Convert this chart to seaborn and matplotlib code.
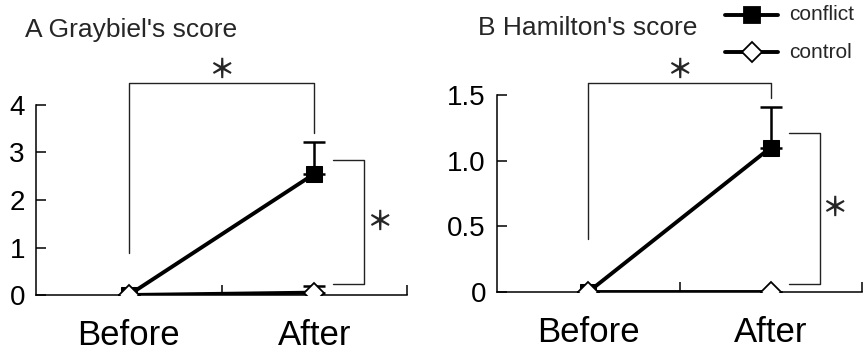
import matplotlib
matplotlib.use("Agg")
import matplotlib.pyplot as plt
import seaborn as sns
import pandas as pd
import numpy as np

sns.set_style("white")
plt.rcParams['font.family'] = ['Liberation Sans', 'Noto Sans CJK JP', 'DejaVu Sans']

# ---- data ----
categories = ["Before", "After"]
groups = ["conflict", "control"]

a_conflict = [0.0, 2.55]
a_conflict_err = [0.0, 0.68]
a_control = [0.0, 0.05]
a_control_err = [0.0, 0.14]

b_conflict = [0.0, 1.10]
b_conflict_err = [0.0, 0.31]
b_control = [0.0, 0.0]
b_control_err = [0.0, 0.0]

a_yticks = [0, 1, 2, 3, 4]
a_yticklabels = ["0", "1", "2", "3", "4"]
b_yticks = [0, 0.5, 1.0, 1.5]
b_yticklabels = ["0", "0.5", "1.0", "1.5"]

W, H = 865, 351
fig = plt.figure(figsize=(W / 100, H / 100), dpi=100)

def px_axes(x0, x1, y0, y1):
    return fig.add_axes([x0 / W, 1 - y0 / H, (x1 - x0) / W, (y0 - y1) / H])

axA = px_axes(36, 407, 295, 105)
axB = px_axes(497, 862, 292, 95)

SQ_MS = 11
DI_MS = 10.5

def draw_panel(ax, conf, conf_err, ctrl, ctrl_err, ymax, yticks, yticklabels, title, title_xy):
    pos = np.arange(len(categories))
    df = pd.DataFrame({
        "x": np.concatenate([pos, pos]),
        "y": conf + ctrl,
        "group": [groups[0]] * len(categories) + [groups[1]] * len(categories),
    })
    ax.errorbar(pos, conf, yerr=[np.zeros(len(conf)), conf_err], fmt="none",
                ecolor="black", elinewidth=1.8, capsize=8, capthick=1.8, zorder=2)
    ax.errorbar(pos, ctrl, yerr=[np.zeros(len(ctrl)), ctrl_err], fmt="none",
                ecolor="black", elinewidth=1.8, capsize=8, capthick=1.8, zorder=2)
    sns.lineplot(data=df[df.group == "conflict"], x="x", y="y", ax=ax, color="black",
                 linewidth=2.8, marker="s", markersize=SQ_MS, markerfacecolor="black",
                 markeredgecolor="black", legend=False, zorder=3)
    sns.lineplot(data=df[df.group == "control"], x="x", y="y", ax=ax, color="black",
                 linewidth=2.8, marker="D", markersize=DI_MS, markerfacecolor="white",
                 markeredgecolor="black", markeredgewidth=1.3, legend=False, zorder=4)
    ax.set_xlim(-0.5, 1.5)
    ax.set_ylim(0, ymax)
    ax.set_xlabel("")
    ax.set_ylabel("")
    for s in ["top", "right"]:
        ax.spines[s].set_visible(False)
    for s in ["left", "bottom"]:
        ax.spines[s].set_color("black")
        ax.spines[s].set_linewidth(1.1)
    ax.set_yticks(yticks)
    ax.set_yticklabels(yticklabels, fontsize=20)
    ax.tick_params(axis="y", left=True, direction="in", length=7, width=1.1, pad=8, colors="black")
    ax.set_xticks(pos)
    ax.set_xticklabels(categories, fontsize=25)
    ax.tick_params(axis="x", which="major", bottom=True, length=0, pad=17, colors="black")
    ax.set_xticks([0.5, 1.5], minor=True)
    ax.tick_params(axis="x", which="minor", bottom=True, direction="in", length=7, width=1.1,
                   colors="black")
    ax.set_facecolor("white")
    fig.text(title_xy[0] / W, 1 - title_xy[1] / H, title, fontsize=19, va="center", ha="left")

draw_panel(axA, a_conflict, a_conflict_err, a_control, a_control_err, 4,
           a_yticks, a_yticklabels, "A Graybiel's score", (25, 30))
draw_panel(axB, b_conflict, b_conflict_err, b_control, b_control_err, 1.5,
           b_yticks, b_yticklabels, "B Hamilton's score", (478, 28))

STAR_FS = 19

def bracket_top(ax, x0, x1, ytop, y0low, y1low, star_y):
    ax.plot([x0, x0, x1, x1], [y0low, ytop, ytop, y1low], color="#222222", lw=1.0,
            clip_on=False, zorder=1)
    ax.text((x0 + x1) / 2, star_y, "＊", ha="center", va="center", fontsize=STAR_FS,
            family=["Noto Sans CJK JP"], fontweight="bold", clip_on=False)

def bracket_side(ax, xa, xb, ytop, ybot, star_x):
    ax.plot([xa, xb, xb, xa], [ytop, ytop, ybot, ybot], color="#222222", lw=1.0,
            clip_on=False, zorder=1)
    ax.text(star_x, (ytop + ybot) / 2, "＊", ha="center", va="center", fontsize=STAR_FS,
            family=["Noto Sans CJK JP"], fontweight="bold", clip_on=False)

bracket_top(axA, 0, 1, 4.46, 0.88, 3.40, 4.72)
bracket_side(axA, 1.1, 1.27, 2.84, 0.23, 1.35)
bracket_top(axB, 0, 1, 1.59, 0.40, 1.48, 1.69)
bracket_side(axB, 1.1, 1.27, 1.21, 0.06, 1.35)

from matplotlib.lines import Line2D
lx0, lx1 = 725 / W, 778 / W
for yy, mk, fc, ms, lab in [(15, "s", "black", SQ_MS, "conflict"), (52, "D", "white", DI_MS, "control")]:
    yf = 1 - yy / H
    fig.add_artist(Line2D([lx0, lx1], [yf, yf], color="black", lw=2.8))
    fig.add_artist(Line2D([(lx0 + lx1) / 2], [yf], marker=mk, markersize=ms,
                          markerfacecolor=fc, markeredgecolor="black", markeredgewidth=1.3, lw=0))
    fig.text(789 / W, yf, lab, fontsize=15, va="center", ha="left")

fig.savefig("out.png", dpi=100, facecolor="white")
